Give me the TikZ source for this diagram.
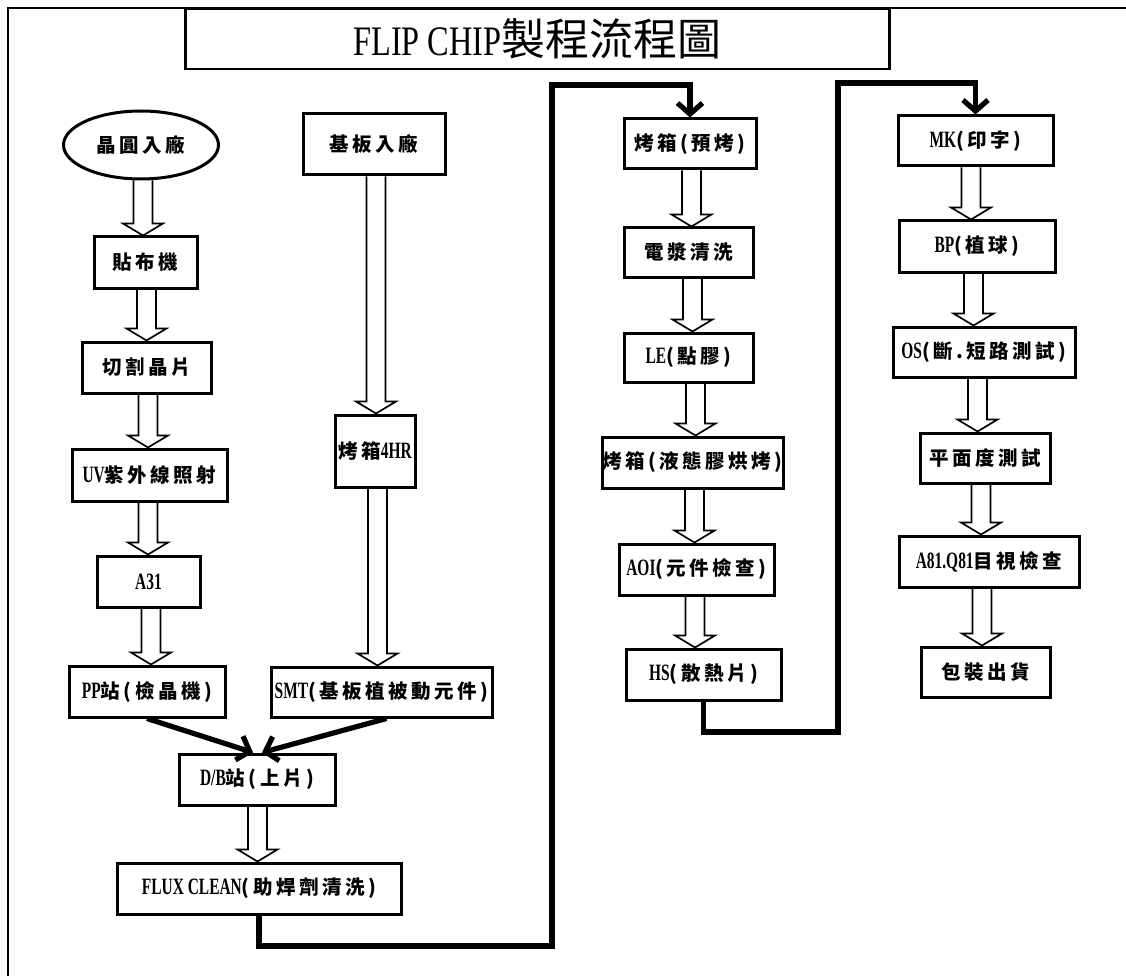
\documentclass[tikz,border=0pt]{standalone}
\usepackage{fontspec}
\setmainfont{Liberation Serif}
\newfontfamily\cjkb{Noto Sans CJK TC}[LetterSpace=18]
\newfontfamily\cjkr{Noto Sans CJK TC}
\newfontfamily\latb{Liberation Serif}[FakeStretch=0.66,Scale=1.2]
\newfontfamily\latt{Liberation Serif}[FakeStretch=0.77]
\usetikzlibrary{shapes.geometric,arrows.meta,calc}

% hollow block arrow from the bottom of #1 to the top of #2, shaft at x = #3
\newcommand{\blockarrow}[3]{%
  \draw[blockarrow] let \p1=(#1.south), \p2=(#2.north) in
    (#3pt-9.5pt,\y1) -- (#3pt-9.5pt,\y2+12pt) -- (#3pt-20pt,\y2+12pt)
    -- (#3pt,\y2) -- (#3pt+20pt,\y2+12pt) -- (#3pt+9.5pt,\y2+12pt)
    -- (#3pt+9.5pt,\y1);}

\begin{document}
\begin{tikzpicture}[x=1pt,y=-1pt,
  proc/.style={draw,line width=3pt,inner sep=0pt,
    font=\cjkb\bfseries\fontsize{19.5}{22}\selectfont},
  blockarrow/.style={draw,line width=1.7pt,line join=miter},
  flowline/.style={line width=5.2pt,line join=miter,
    -{Straight Barb[length=11pt,width=25pt]}},
  frame/.style={line width=2.8pt}]
\useasboundingbox (0,0) rectangle (1126,976);

% outer frame (left and top edges)
\coordinate (fbl) at (8,976);
\coordinate (ftl) at (8,8);
\coordinate (ftr) at (1126,8);
\draw[frame] (fbl) -- (ftl) -- (ftr);

% title
\node[draw,line width=2.2pt,fill=white,minimum width=704pt,minimum height=60pt,inner sep=0pt]
  (title) at (537.5,39)
  {{\latt\fontsize{42}{44}\selectfont FLIP CHIP}{\cjkr\fontsize{44}{46}\selectfont 製程流程圖}};

% wafer column
\node[proc,ellipse,minimum width=155pt,minimum height=68pt] (wafer) at (141,145) {晶圓入廠};
\node[proc,minimum width=103pt,minimum height=51pt] (tape) at (145.5,262.5) {貼布機};
\node[proc,minimum width=129pt,minimum height=51pt] (saw) at (146.5,367.5) {切割晶片};
\node[proc,minimum width=155pt,minimum height=52pt] (uv) at (149.5,475) {{\latb UV}紫外線照射};
\node[proc,minimum width=103pt,minimum height=51pt] (a31) at (148.5,581.5) {{\latb A31}};
\node[proc,minimum width=156pt,minimum height=51pt] (pp) at (147,691.5) {{\latb PP}站(檢晶機)};

% substrate column
\node[proc,minimum width=142pt,minimum height=61pt] (sub) at (374,144.5) {基板入廠};
\node[proc,minimum width=80pt,minimum height=72pt] (oven4) at (375,451) {烤箱{\latb 4HR}};
\node[proc,minimum width=221pt,minimum height=50pt] (smt) at (381.5,692) {{\latb SMT}(基板植被動元件)};

% die bond and flux clean
\node[proc,minimum width=156pt,minimum height=51pt] (db) at (257,779.5) {{\latb D/B}站(上片)};
\node[proc,minimum width=284pt,minimum height=51pt] (flux) at (259,888.5) {{\latb FLUX CLEAN}(助焊劑清洗)};

% third column
\node[proc,minimum width=132pt,minimum height=50pt] (bake1) at (690,144) {烤箱(預烤)};
\node[proc,minimum width=129pt,minimum height=49pt] (plasma) at (688.5,252.5) {電漿清洗};
\node[proc,minimum width=129pt,minimum height=49pt] (le) at (688.5,357.5) {{\latb LE}(點膠)};
\node[proc,minimum width=181pt,minimum height=51pt] (bake2) at (692.5,462.5) {烤箱(液態膠烘烤)};
\node[proc,minimum width=155pt,minimum height=51pt] (aoi) at (696.5,569.5) {{\latb AOI}(元件檢查)};
\node[proc,minimum width=155pt,minimum height=51pt] (hs) at (703.5,674.5) {{\latb HS}(散熱片)};

% fourth column
\node[proc,minimum width=155pt,minimum height=50pt] (mk) at (975.5,141) {{\latb MK}(印字)};
\node[proc,minimum width=156pt,minimum height=51pt] (bp) at (977,246.5) {{\latb BP}(植球)};
\node[proc,minimum width=182pt,minimum height=50pt] (os) at (984,352) {{\latb OS}(斷.短路測試)};
\node[proc,minimum width=130pt,minimum height=50pt] (flat) at (985,458) {平面度測試};
\node[proc,minimum width=180pt,minimum height=51pt] (a81) at (989,561.5) {{\latb A81.Q81}目視檢查};
\node[proc,minimum width=129pt,minimum height=50pt] (pack) at (985.5,672) {包裝出貨};

% hollow arrows
\blockarrow{wafer}{tape}{143}
\blockarrow{tape}{saw}{146.5}
\blockarrow{saw}{uv}{148}
\blockarrow{uv}{a31}{148}
\blockarrow{a31}{pp}{151}
\blockarrow{sub}{oven4}{376}
\blockarrow{oven4}{smt}{377.5}
\blockarrow{db}{flux}{257.5}
\blockarrow{bake1}{plasma}{691.5}
\blockarrow{plasma}{le}{692.5}
\blockarrow{le}{bake2}{695.5}
\blockarrow{bake2}{aoi}{694.5}
\blockarrow{aoi}{hs}{695}
\blockarrow{mk}{bp}{971}
\blockarrow{bp}{os}{973.5}
\blockarrow{os}{flat}{977.5}
\blockarrow{flat}{a81}{981}
\blockarrow{a81}{pack}{982}

% merging into die bond
\draw[flowline] (pp.south) -- ([xshift=-4pt]db.north);
\draw[flowline] ([xshift=5pt]smt.south) -- ([xshift=5pt]db.north);

% return lines between columns
\coordinate (r1a) at (552,946);
\coordinate (r1b) at (552,85);
\draw[flowline] (flux.south) |- (r1a) -- (r1b) -| (bake1.north);
\coordinate (r2a) at (838,732);
\coordinate (r2b) at (838,83);
\draw[flowline] (hs.south) |- (r2a) -- (r2b) -| (mk.north);
\end{tikzpicture}
\end{document}
